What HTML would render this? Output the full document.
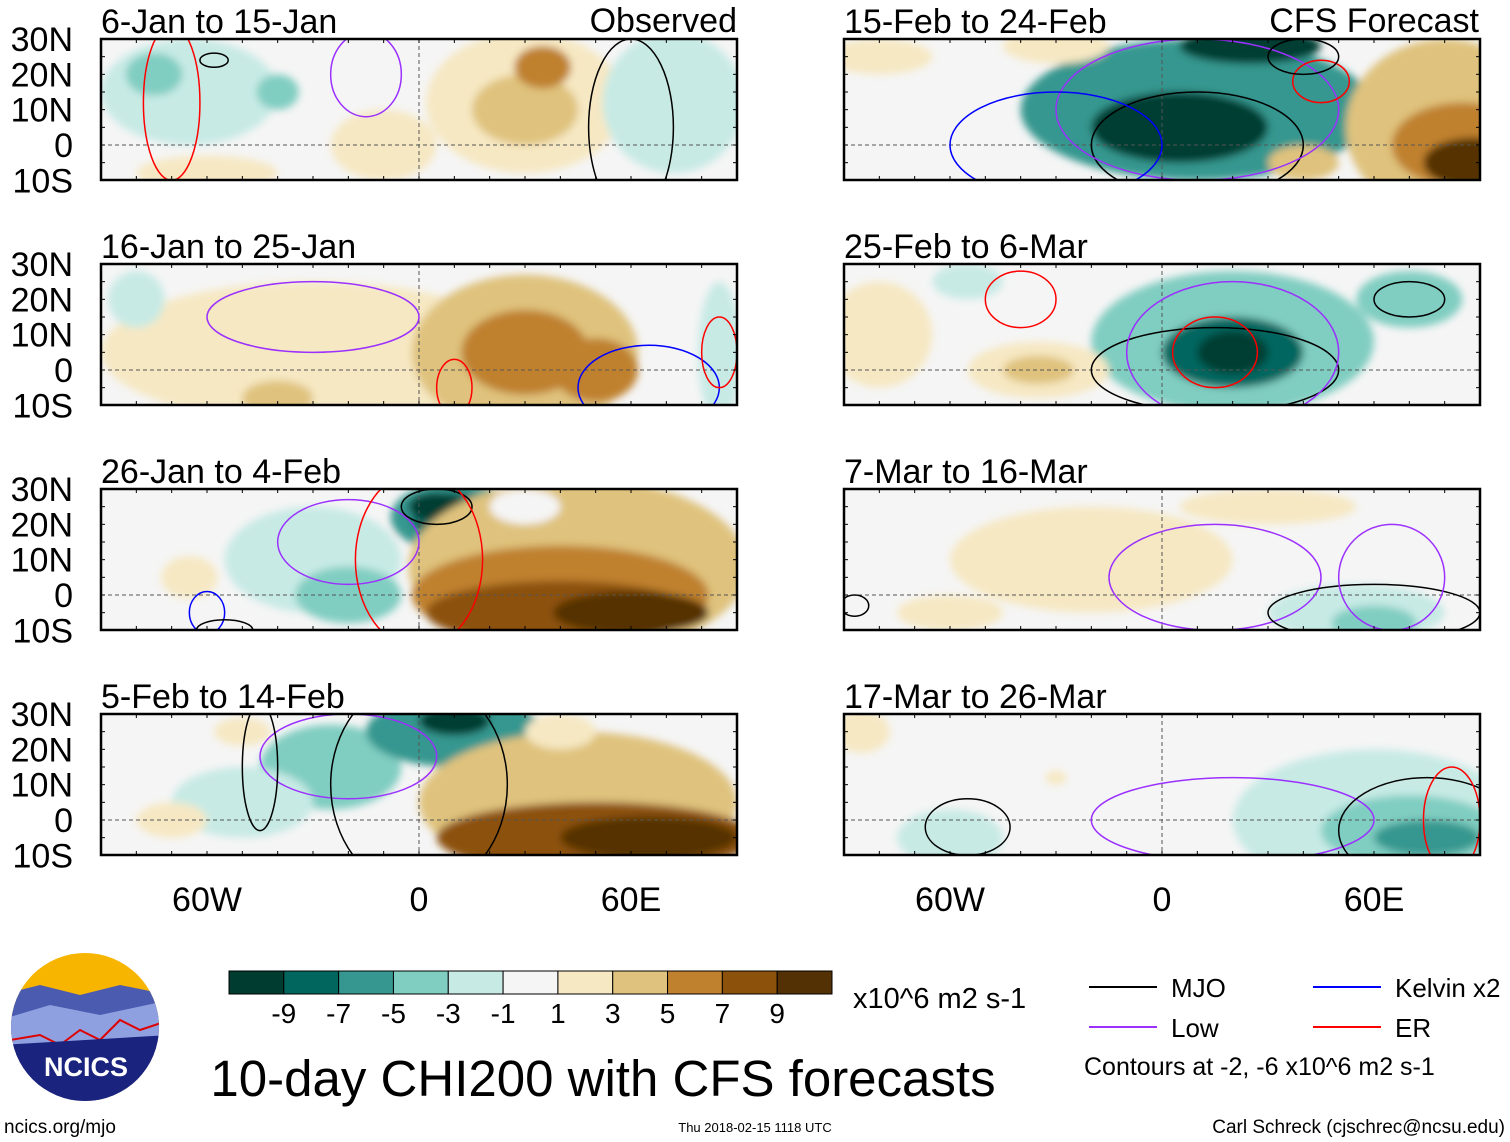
<!DOCTYPE html>
<html><head><meta charset="utf-8">
<style>
body{margin:0;background:#fff;}
svg{display:block;font-family:"Liberation Sans",Arial,sans-serif;}
</style></head>
<body>
<svg id="c" width="1510" height="1142" viewBox="0 0 1510 1142">
<defs><filter id="bl" x="-20%" y="-20%" width="140%" height="140%"><feGaussianBlur stdDeviation="4"/></filter></defs>
</svg>
<script>
// ---- data ----
const levelColors=["#003c30","#01665e","#35978f","#80cdc1","#c7eae5","#f5f5f5","#f6e8c3","#dfc27d","#bf812d","#8c510a","#543005"];
const levelTicks=["-9","-7","-5","-3","-1","1","3","5","7","9"];
const panelTitles=["6-Jan to 15-Jan","16-Jan to 25-Jan","26-Jan to 4-Feb","5-Feb to 14-Feb","15-Feb to 24-Feb","25-Feb to 6-Mar","7-Mar to 16-Mar","17-Mar to 26-Mar"];
const latTicks=[30,20,10,0,-10];
const latLabels=["30N","20N","10N","0","10S"];
const lonTicks=[-60,0,60];
const lonLabels=["60W","0","60E"];
// anomaly blobs per panel: [lon, lat, rxDeg, ryDeg, levelIndex]
const blobs=[
[[-65,15,25,15,4],[-75,20,8,6,3],[-40,15,6,5,3],[-10,0,15,10,6],[30,12,28,20,6],[30,10,15,10,7],[35,22,8,6,8],[72,12,20,20,4],[-60,-8,20,5,6]],
[[-30,5,60,20,6],[30,5,32,22,7],[30,5,18,12,8],[50,0,12,9,8],[-40,-8,10,5,7],[-80,20,8,8,4],[85,5,6,20,4]],
[[-30,10,25,15,4],[-20,0,15,8,3],[10,22,18,10,2],[10,22,12,7,1],[5,25,8,4,0],[45,8,48,25,7],[40,0,42,14,8],[40,-5,38,9,9],[60,-5,22,6,10],[30,25,10,5,5],[-65,5,8,6,6]],
[[-25,15,20,12,3],[-50,5,20,10,4],[10,25,25,10,2],[10,28,10,4,0],[45,5,45,20,7],[50,-5,45,10,9],[65,-5,25,6,10],[40,25,10,5,6],[-70,0,10,5,6],[-50,25,8,4,6]],
[[10,10,50,20,2],[5,5,25,10,0],[25,28,20,5,0],[-80,25,15,5,6],[-30,28,15,5,6],[80,5,28,25,7],[85,0,20,12,8],[88,-5,14,7,10],[40,-5,10,5,7]],
[[20,8,40,20,3],[20,5,20,10,1],[20,5,10,6,0],[-35,0,20,8,6],[-35,0,10,4,7],[-55,25,10,5,4],[-80,10,15,15,6],[70,20,15,8,3]],
[[-20,10,40,15,6],[30,25,25,5,6],[55,-5,25,8,4],[60,-8,12,5,3],[-60,-5,15,5,6]],
[[60,0,40,20,4],[70,-3,25,10,3],[75,-5,15,5,2],[-60,-5,15,8,4],[-85,25,8,6,6],[-30,12,3,2,6]]
];
// contours per panel: [lon, lat, rxDeg, ryDeg, colorKey]
const contours=[
[[-70,12,8,22,"er"],[-58,24,4,2,"mjo"],[-15,20,10,12,"low"],[60,5,12,25,"mjo"]],
[[-30,15,30,10,"low"],[10,-5,5,8,"er"],[65,-5,20,12,"kelvin"],[85,5,5,10,"er"]],
[[-20,15,20,12,"low"],[5,25,10,5,"mjo"],[0,10,18,25,"er"],[-60,-5,5,6,"kelvin"],[-55,-10,8,3,"mjo"]],
[[-20,18,25,12,"low"],[0,10,25,30,"mjo"],[-45,15,5,18,"mjo"]],
[[10,0,30,15,"mjo"],[10,10,40,20,"low"],[-30,0,30,15,"kelvin"],[45,18,8,6,"er"],[40,25,10,5,"mjo"]],
[[15,0,35,12,"mjo"],[20,5,30,20,"low"],[15,5,12,10,"er"],[-40,20,10,8,"er"],[70,20,10,5,"mjo"]],
[[15,5,30,15,"low"],[60,-5,30,8,"mjo"],[65,5,15,15,"low"],[-87,-3,4,3,"mjo"]],
[[-55,-2,12,8,"mjo"],[20,0,40,12,"low"],[75,-3,25,15,"mjo"],[82,0,8,15,"er"]]
];
// ---- layout ----
const NS="http://www.w3.org/2000/svg";
const svg=document.getElementById('c');
function mk(t,a,p){const e=document.createElementNS(NS,t);for(const k in a)e.setAttribute(k,a[k]);(p||svg).appendChild(e);return e;}
const contourColor={mjo:"#000",low:"#9b30ff",kelvin:"#0000ff",er:"#ff0000"};
const panelLeft=[101,844], panelTops=[39,264,489,714], PW=636, PH=141;
const scale=PW/180;
for(let i=0;i<8;i++){
  const col=i<4?0:1,row=i%4;
  const x0=panelLeft[col],y0=panelTops[row];
  const X=lon=>x0+(lon+90)*scale, Y=lat=>y0+(30-lat)*scale;
  const g=mk('g',{});
  
  
  const cp=mk('clipPath',{id:'cp'+i},g);mk('rect',{x:x0,y:y0,width:PW,height:PH},cp);
  const inner=mk('g',{'clip-path':'url(#cp'+i+')'},g);
  mk('rect',{x:x0,y:y0,width:PW,height:PH,fill:levelColors[5]},inner);
  const fg=mk('g',{filter:'url(#bl)'},inner);
  blobs[i].forEach(b=>{const e=mk('ellipse',{cx:X(b[0]),cy:Y(b[1]),rx:b[2]*scale,ry:b[3]*scale,fill:levelColors[b[4]]},fg);
    });
  mk('line',{x1:x0,x2:x0+PW,y1:Y(0),y2:Y(0),stroke:'#555','stroke-dasharray':'4,3','stroke-width':1},inner);
  mk('line',{x1:X(0),x2:X(0),y1:y0,y2:y0+PH,stroke:'#555','stroke-dasharray':'4,3','stroke-width':1},inner);
  contours[i].forEach(c=>{const e=mk('ellipse',{cx:X(c[0]),cy:Y(c[1]),rx:c[2]*scale,ry:c[3]*scale,fill:'none',stroke:contourColor[c[4]],'stroke-width':1.5},inner);
    });
  mk('rect',{x:x0,y:y0,width:PW,height:PH,fill:'none',stroke:'#000','stroke-width':2.5},g);
  for(let l=-90;l<=90;l+=10){mk('line',{x1:X(l),x2:X(l),y1:y0,y2:y0+4,stroke:'#000'},g);mk('line',{x1:X(l),x2:X(l),y1:y0+PH,y2:y0+PH-4,stroke:'#000'},g);}
  for(let la=-10;la<=30;la+=5){mk('line',{x1:x0,x2:x0+4,y1:Y(la),y2:Y(la),stroke:'#000'},g);mk('line',{x1:x0+PW,x2:x0+PW-4,y1:Y(la),y2:Y(la),stroke:'#000'},g);}
  const t=mk('text',{x:x0,y:y0-6,'font-size':34},g);t.textContent=panelTitles[i];
  
  if(col===0){latTicks.forEach((la,k)=>{const tt=mk('text',{x:73,y:Y(la)+12,'font-size':34,'text-anchor':'end'},g);tt.textContent=latLabels[k];
    });}
  if(row===3){lonTicks.forEach((lo,k)=>{const tt=mk('text',{x:X(lo),y:911,'font-size':34,'text-anchor':'middle'},g);tt.textContent=lonLabels[k];
    });}
}
function txt(s,a,name){const t=mk('text',a);t.textContent=s;return t;}
txt("Observed",{x:737,y:32,'font-size':34,'text-anchor':'end'},'observed-label');
txt("CFS Forecast",{x:1479,y:32,'font-size':34,'text-anchor':'end'},'forecast-label');
// colorbar
const cb=mk('g',{});
const cbx=229,cbw=603/levelColors.length;
levelColors.forEach((c,k)=>mk('rect',{x:cbx+k*cbw,y:971,width:cbw,height:23,fill:c,stroke:'#000','stroke-width':1},cb));
levelTicks.forEach((s,k)=>{const t=mk('text',{x:cbx+(k+1)*cbw,y:1023,'font-size':28,'text-anchor':'middle'},cb);t.textContent=s;});
txt("x10^6 m2 s-1",{x:853,y:1008,'font-size':29},'colorbar-units');
txt("10-day CHI200 with CFS forecasts",{x:603,y:1096,'font-size':51,'text-anchor':'middle'},'main-title');
// legend
const lg=[["MJO",1089,987,"#000"],["Low",1089,1027,"#9b30ff"],["Kelvin x2",1313,987,"#0000ff"],["ER",1313,1027,"#ff0000"]];
lg.forEach(l=>{mk('line',{x1:l[1],x2:l[1]+68,y1:l[2],y2:l[2],stroke:l[3],'stroke-width':2});txt(l[0],{x:l[1]+82,y:l[2]+10,'font-size':26},'legend-entry');});
txt("Contours at -2, -6 x10^6 m2 s-1",{x:1084,y:1075,'font-size':25},'contour-note');
txt("ncics.org/mjo",{x:4,y:1133,'font-size':19},'footer-url');
txt("Thu 2018-02-15 1118 UTC",{x:755,y:1132,'font-size':13,'text-anchor':'middle'},'timestamp');
txt("Carl Schreck (cjschrec@ncsu.edu)",{x:1505,y:1133,'font-size':19,'text-anchor':'end'},'author');
// logo
const lo=mk('g',{});
mk('clipPath',{id:'lc'},lo).appendChild(mk('circle',{cx:85,cy:1027,r:74},lo));
const lci=mk('g',{'clip-path':'url(#lc)'},lo);
mk('rect',{x:0,y:950,width:170,height:160,fill:'#f7b500'},lci);
mk('path',{d:'M0 995 L40 985 L80 995 L120 985 L170 995 L170 1110 L0 1110Z',fill:'#4a5bb0'},lci);
mk('path',{d:'M0 1020 L50 1005 L100 1015 L170 1000 L170 1110 L0 1110Z',fill:'#8fa0e0'},lci);
mk('path',{d:'M10 1040 L40 1035 L60 1045 L80 1030 L100 1040 L120 1020 L140 1030 L170 1020',fill:'none',stroke:'#d00','stroke-width':2},lci);
mk('path',{d:'M0 1045 L170 1035 L170 1110 L0 1110Z',fill:'#1a237e'},lci);
txt("NCICS",{x:86,y:1076,'font-size':27,'font-weight':'bold','text-anchor':'middle',fill:'#fff'},'logo-text');
</script>
</body></html>
